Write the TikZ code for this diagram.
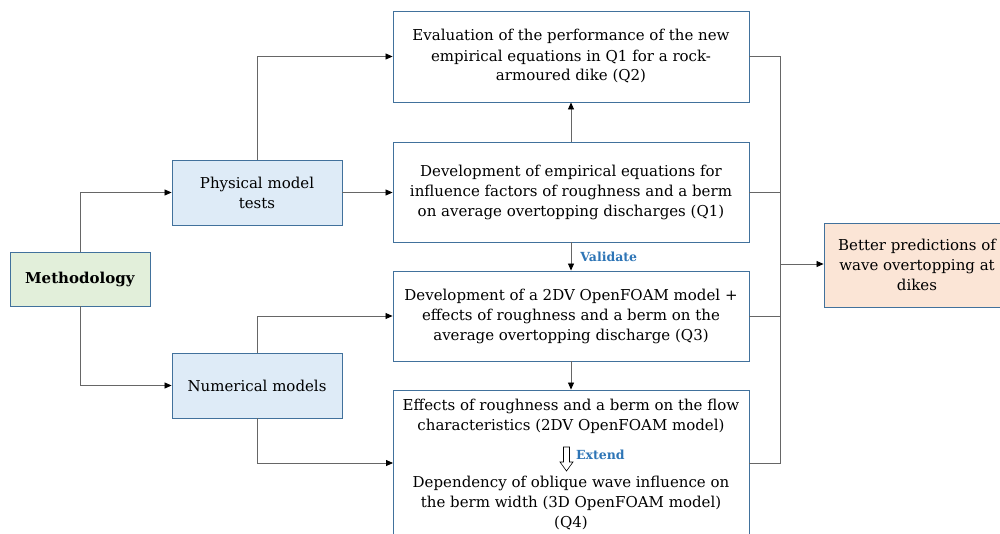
\documentclass[tikz,border=0pt]{standalone}
\usepackage{fontspec}
\setmainfont{DejaVu Serif}
\usetikzlibrary{arrows.meta}
\definecolor{bordercol}{HTML}{41719C}
\definecolor{greenfill}{HTML}{E2EFDA}
\definecolor{bluefill}{HTML}{DEEBF7}
\definecolor{orangefill}{HTML}{FBE5D6}
\definecolor{linecol}{HTML}{666666}
\definecolor{labcol}{HTML}{2E75B6}
\tikzset{
  box/.style={draw=bordercol, line width=0.9pt, align=center, inner sep=2pt,
    font=\fontsize{15}{20}\selectfont},
  wire/.style={draw=linecol, line width=0.8pt},
  conn/.style={wire, -{Triangle[length=7pt,width=6pt,color=black]}},
  lab/.style={text=labcol, font=\fontsize{12.5}{14}\selectfont\bfseries, inner sep=1pt},
  txt/.style={align=center, inner sep=0pt, font=\fontsize{15}{20}\selectfont},
}
\begin{document}
\begin{tikzpicture}[x=1pt,y=-1pt]
\useasboundingbox (0,0) rectangle (1000,533);
\node[box, fill=greenfill, minimum width=140pt, minimum height=54pt] (meth) at (80,279) {\textbf{Methodology}};
\node[box, fill=bluefill, minimum width=170pt, minimum height=65pt] (phys) at (257,192.5) {Physical model\\tests};
\node[box, fill=bluefill, minimum width=170pt, minimum height=65pt] (num) at (257,385.5) {Numerical models};
\node[box, minimum width=356pt, minimum height=91pt] (q2) at (571,56.5) {Evaluation of the performance of the new\\empirical equations in Q1 for a rock-\\armoured dike (Q2)};
\node[box, minimum width=356pt, minimum height=100pt] (q1) at (571,192) {Development of empirical equations for\\influence factors of roughness and a berm\\on average overtopping discharges (Q1)};
\node[box, minimum width=356pt, minimum height=90pt] (q3) at (571,316) {Development of a 2DV OpenFOAM model +\\effects of roughness and a berm on the\\average overtopping discharge (Q3)};
\node[box, minimum width=356pt, minimum height=160pt] (q4) at (571,470) {};
\node[txt] (q4a) at (571,416) {Effects of roughness and a berm on the flow\\characteristics (2DV OpenFOAM model)};
\draw[black, fill=white, line width=0.6pt] (563.5,447) -- (569.5,447) -- (569.5,462) -- (573,462) -- (566.5,471) -- (560,462) -- (563.5,462) -- cycle;
\node[lab, anchor=west] (extl) at (575,455) {Extend};
\node[txt] (q4b) at (571,503) {Dependency of oblique wave influence on\\the berm width (3D OpenFOAM model)\\(Q4)};
\node[box, fill=orangefill, minimum width=186pt, minimum height=84pt] (better) at (917,265) {Better predictions of\\wave overtopping at\\dikes};
\coordinate (q4in) at (393,463);
\coordinate (q4out) at (749,463);
\coordinate (bus) at (780,264);
\draw[conn] (meth.north) |- (phys.west);
\draw[conn] (meth.south) |- (num.west);
\draw[conn] (phys.north) |- (q2.west);
\draw[conn] (phys.east) -- (phys.east -| q1.west);
\draw[conn] (num.north) |- (q3.west);
\draw[conn] (num.south) |- (q4in);
\draw[conn] (q1.north) -- (q2.south);
\draw[conn] (q1.south) -- node[lab, right, pos=0.5, xshift=8pt] (val) {Validate} (q3.north);
\draw[conn] (q3.south) -- (q4.north);
\draw[wire] (q2.east) -| (bus);
\draw[wire] (q1.east) -| (bus);
\draw[wire] (q3.east) -| (bus);
\draw[wire] (q4out) -| (bus);
\draw[conn] (bus) -- (bus -| better.west);
\end{tikzpicture}
\end{document}
